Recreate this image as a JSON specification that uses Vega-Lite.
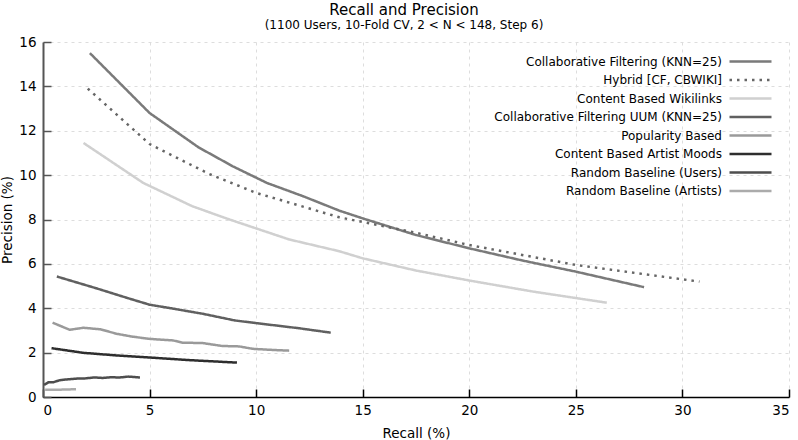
{
  "$schema": "https://vega.github.io/schema/vega-lite/v6.json",
  "width": 746,
  "height": 355,
  "autosize": "none",
  "padding": {"left": 43, "top": 42, "right": 9, "bottom": 43},
  "background": "white",
  "config": {
    "font": "DejaVu Sans",
    "view": {"stroke": null}
  },
  "title": {
    "text": "Recall and Precision",
    "subtitle": "(1100 Users, 10-Fold CV, 2 < N < 148, Step 6)",
    "anchor": "middle",
    "dx": -12,
    "fontSize": 15,
    "fontWeight": "normal",
    "subtitleFontSize": 12,
    "subtitleColor": "#000",
    "subtitlePadding": 2,
    "offset": 4,
    "color": "#000"
  },
  "data": {
    "values": [
      {"s": "Collaborative Filtering (KNN=25)", "r": 2.2, "p": 15.5},
      {"s": "Collaborative Filtering (KNN=25)", "r": 5.0, "p": 12.8},
      {"s": "Collaborative Filtering (KNN=25)", "r": 7.3, "p": 11.25},
      {"s": "Collaborative Filtering (KNN=25)", "r": 8.9, "p": 10.4},
      {"s": "Collaborative Filtering (KNN=25)", "r": 10.5, "p": 9.65},
      {"s": "Collaborative Filtering (KNN=25)", "r": 12.2, "p": 9.05},
      {"s": "Collaborative Filtering (KNN=25)", "r": 13.9, "p": 8.4},
      {"s": "Collaborative Filtering (KNN=25)", "r": 15.0, "p": 8.05},
      {"s": "Collaborative Filtering (KNN=25)", "r": 17.5, "p": 7.3},
      {"s": "Collaborative Filtering (KNN=25)", "r": 20.0, "p": 6.7},
      {"s": "Collaborative Filtering (KNN=25)", "r": 22.5, "p": 6.15},
      {"s": "Collaborative Filtering (KNN=25)", "r": 25.0, "p": 5.65},
      {"s": "Collaborative Filtering (KNN=25)", "r": 28.2, "p": 4.95},
      {"s": "Hybrid [CF, CBWIKI]", "r": 2.1, "p": 13.9},
      {"s": "Hybrid [CF, CBWIKI]", "r": 5.0, "p": 11.4},
      {"s": "Hybrid [CF, CBWIKI]", "r": 7.8, "p": 10.05},
      {"s": "Hybrid [CF, CBWIKI]", "r": 10.0, "p": 9.2},
      {"s": "Hybrid [CF, CBWIKI]", "r": 13.9, "p": 8.1},
      {"s": "Hybrid [CF, CBWIKI]", "r": 17.5, "p": 7.4},
      {"s": "Hybrid [CF, CBWIKI]", "r": 20.0, "p": 6.85},
      {"s": "Hybrid [CF, CBWIKI]", "r": 25.0, "p": 5.95},
      {"s": "Hybrid [CF, CBWIKI]", "r": 30.8, "p": 5.2},
      {"s": "Content Based Wikilinks", "r": 1.9, "p": 11.45},
      {"s": "Content Based Wikilinks", "r": 4.7, "p": 9.65},
      {"s": "Content Based Wikilinks", "r": 7.0, "p": 8.6},
      {"s": "Content Based Wikilinks", "r": 8.75, "p": 8.0},
      {"s": "Content Based Wikilinks", "r": 11.55, "p": 7.1},
      {"s": "Content Based Wikilinks", "r": 13.9, "p": 6.57},
      {"s": "Content Based Wikilinks", "r": 15.0, "p": 6.25},
      {"s": "Content Based Wikilinks", "r": 17.5, "p": 5.7},
      {"s": "Content Based Wikilinks", "r": 20.0, "p": 5.25},
      {"s": "Content Based Wikilinks", "r": 23.0, "p": 4.75},
      {"s": "Content Based Wikilinks", "r": 26.45, "p": 4.25},
      {"s": "Collaborative Filtering UUM (KNN=25)", "r": 0.65, "p": 5.43},
      {"s": "Collaborative Filtering UUM (KNN=25)", "r": 2.5, "p": 4.9},
      {"s": "Collaborative Filtering UUM (KNN=25)", "r": 4.0, "p": 4.45},
      {"s": "Collaborative Filtering UUM (KNN=25)", "r": 5.0, "p": 4.16},
      {"s": "Collaborative Filtering UUM (KNN=25)", "r": 6.0, "p": 4.0},
      {"s": "Collaborative Filtering UUM (KNN=25)", "r": 7.5, "p": 3.75},
      {"s": "Collaborative Filtering UUM (KNN=25)", "r": 9.0, "p": 3.45},
      {"s": "Collaborative Filtering UUM (KNN=25)", "r": 10.0, "p": 3.33},
      {"s": "Collaborative Filtering UUM (KNN=25)", "r": 12.0, "p": 3.1},
      {"s": "Collaborative Filtering UUM (KNN=25)", "r": 13.5, "p": 2.9},
      {"s": "Popularity Based", "r": 0.45, "p": 3.35},
      {"s": "Popularity Based", "r": 1.25, "p": 3.03},
      {"s": "Popularity Based", "r": 1.9, "p": 3.12},
      {"s": "Popularity Based", "r": 2.7, "p": 3.05},
      {"s": "Popularity Based", "r": 3.45, "p": 2.85},
      {"s": "Popularity Based", "r": 4.2, "p": 2.72},
      {"s": "Popularity Based", "r": 5.0, "p": 2.62},
      {"s": "Popularity Based", "r": 5.6, "p": 2.58},
      {"s": "Popularity Based", "r": 6.1, "p": 2.55},
      {"s": "Popularity Based", "r": 6.55, "p": 2.45},
      {"s": "Popularity Based", "r": 7.5, "p": 2.43},
      {"s": "Popularity Based", "r": 8.4, "p": 2.3},
      {"s": "Popularity Based", "r": 9.2, "p": 2.28},
      {"s": "Popularity Based", "r": 9.85, "p": 2.17},
      {"s": "Popularity Based", "r": 10.8, "p": 2.12},
      {"s": "Popularity Based", "r": 11.55, "p": 2.09},
      {"s": "Content Based Artist Moods", "r": 0.4, "p": 2.2},
      {"s": "Content Based Artist Moods", "r": 1.9, "p": 1.99},
      {"s": "Content Based Artist Moods", "r": 3.5, "p": 1.87},
      {"s": "Content Based Artist Moods", "r": 5.0, "p": 1.78},
      {"s": "Content Based Artist Moods", "r": 6.9, "p": 1.66},
      {"s": "Content Based Artist Moods", "r": 9.1, "p": 1.55},
      {"s": "Random Baseline (Users)", "r": 0.05, "p": 0.55},
      {"s": "Random Baseline (Users)", "r": 0.25, "p": 0.66},
      {"s": "Random Baseline (Users)", "r": 0.5, "p": 0.67},
      {"s": "Random Baseline (Users)", "r": 0.8, "p": 0.76},
      {"s": "Random Baseline (Users)", "r": 1.2, "p": 0.8},
      {"s": "Random Baseline (Users)", "r": 1.6, "p": 0.83},
      {"s": "Random Baseline (Users)", "r": 2.0, "p": 0.84},
      {"s": "Random Baseline (Users)", "r": 2.4, "p": 0.88},
      {"s": "Random Baseline (Users)", "r": 2.8, "p": 0.86},
      {"s": "Random Baseline (Users)", "r": 3.2, "p": 0.89},
      {"s": "Random Baseline (Users)", "r": 3.6, "p": 0.88},
      {"s": "Random Baseline (Users)", "r": 4.0, "p": 0.92},
      {"s": "Random Baseline (Users)", "r": 4.55, "p": 0.88},
      {"s": "Random Baseline (Artists)", "r": 0.1, "p": 0.33},
      {"s": "Random Baseline (Artists)", "r": 0.8, "p": 0.33},
      {"s": "Random Baseline (Artists)", "r": 1.55, "p": 0.35}
    ]
  },
  "mark": {"type": "line", "strokeWidth": 2.5, "clip": true},
  "encoding": {
    "x": {
      "field": "r", "type": "quantitative", "title": "Recall (%)",
      "scale": {"domain": [0, 35], "nice": false, "zero": false},
      "axis": {
        "values": [0, 5, 10, 15, 20, 25, 30, 35],
        "tickSize": -8, "tickColor": "#000", "tickWidth": 1.5,
        "domainColor": "#000", "domainWidth": 1.5,
        "labelFontSize": 13.5, "labelColor": "#000", "labelPadding": 14,
        "titleFontSize": 13.5, "titleFontWeight": "normal", "titleColor": "#000", "titlePadding": 10,
        "grid": true, "gridDash": [3, 4], "gridColor": "#dddddd", "gridWidth": 1
      }
    },
    "y": {
      "field": "p", "type": "quantitative", "title": "Precision (%)",
      "scale": {"domain": [0, 16], "nice": false},
      "axis": {
        "values": [0, 2, 4, 6, 8, 10, 12, 14, 16],
        "tickSize": -8, "tickColor": "#555", "tickWidth": 1.5,
        "domainColor": "#555", "domainWidth": 2,
        "labelFontSize": 13.5, "labelColor": "#000", "labelPadding": 15,
        "titleFontSize": 13.5, "titleFontWeight": "normal", "titleColor": "#000", "titlePadding": 4,
        "grid": true, "gridDash": [3, 4], "gridColor": "#dddddd", "gridWidth": 1
      }
    },
    "color": {
      "field": "s", "type": "nominal", "title": null,
      "scale": {
        "domain": ["Collaborative Filtering (KNN=25)", "Hybrid [CF, CBWIKI]", "Content Based Wikilinks", "Collaborative Filtering UUM (KNN=25)", "Popularity Based", "Content Based Artist Moods", "Random Baseline (Users)", "Random Baseline (Artists)"],
        "range": ["#7a7a7a", "#666666", "#d0d0d0", "#606060", "#9a9a9a", "#2e2e2e", "#4e4e4e", "#ababab"]
      },
      "legend": {
        "orient": "none", "legendX": 699, "legendY": 11,
        "symbolType": "M-3,0H3", "symbolSize": 196, "symbolStrokeWidth": 2.5,
        "labelAlign": "right", "labelOffset": -37, "labelFontSize": 12, "labelColor": "#000",
        "labelLimit": 400, "rowPadding": 3.5, "padding": 0
      }
    },
    "strokeDash": {
      "field": "s", "type": "nominal", "title": null,
      "scale": {
        "domain": ["Collaborative Filtering (KNN=25)", "Hybrid [CF, CBWIKI]", "Content Based Wikilinks", "Collaborative Filtering UUM (KNN=25)", "Popularity Based", "Content Based Artist Moods", "Random Baseline (Users)", "Random Baseline (Artists)"],
        "range": [[1, 0], [2.5, 5], [1, 0], [1, 0], [1, 0], [1, 0], [1, 0], [1, 0]]
      },
      "legend": {
        "orient": "none", "legendX": 699, "legendY": 11,
        "symbolType": "M-3,0H3", "symbolSize": 196, "symbolStrokeWidth": 2.5,
        "labelAlign": "right", "labelOffset": -37, "labelFontSize": 12, "labelColor": "#000",
        "labelLimit": 400, "rowPadding": 3.5, "padding": 0
      }
    }
  }
}
